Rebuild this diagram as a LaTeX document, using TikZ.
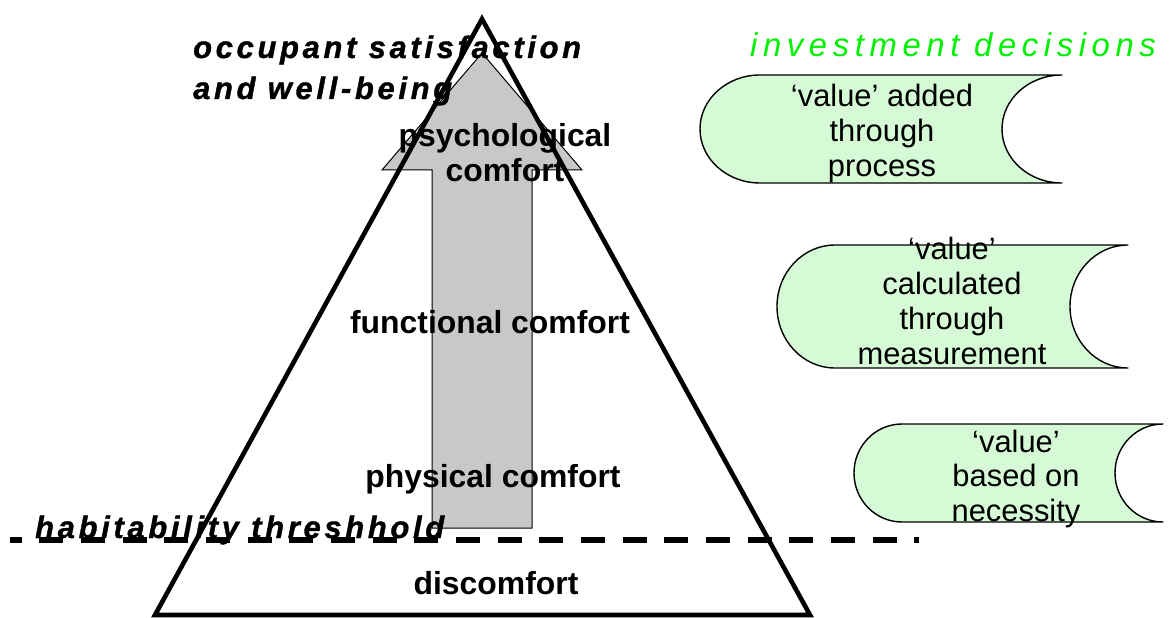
\documentclass[tikz,border=0pt]{standalone}
\usepackage{fontspec}
\setmainfont{Liberation Sans}
\newfontfamily\spacedbi[LetterSpace=12,FakeBold=1.2]{Liberation Sans Bold Italic}
\newfontfamily\spacedit[LetterSpace=17]{Liberation Sans Italic}
\definecolor{bannerfill}{RGB}{214,250,214}
\definecolor{arrowgray}{RGB}{200,200,200}
\definecolor{titlegreen}{RGB}{0,240,0}
\newcommand\bannershape[5]{%
  \pgfmathsetmacro\bnYm{(#3+#4)/2}%
  \pgfmathsetmacro\bnRy{(#4-#3)/2}%
  \pgfmathsetmacro\bnKx{0.5523*#5}%
  \pgfmathsetmacro\bnKy{0.5523*\bnRy}%
  \draw[banner] (#1,#3) -- (#2,#3)
    .. controls ({#2-\bnKx},#3) and ({#2-#5},{\bnYm-\bnKy}) .. ({#2-#5},\bnYm)
    .. controls ({#2-#5},{\bnYm+\bnKy}) and ({#2-\bnKx},#4) .. (#2,#4)
    -- (#1,#4)
    .. controls ({#1-\bnKx},#4) and ({#1-#5},{\bnYm+\bnKy}) .. ({#1-#5},\bnYm)
    .. controls ({#1-#5},{\bnYm-\bnKy}) and ({#1-\bnKx},#3) .. (#1,#3) -- cycle;
}
\begin{document}
\begin{tikzpicture}[x=1bp,y=-1bp,
  banner/.style={fill=bannerfill,draw=black,line width=1.4bp,line join=round},
  uparrow/.style={fill=arrowgray,draw=black,line width=1bp},
  pyramid/.style={draw=black,line width=4.6bp,line join=miter},
  threshold/.style={draw=black,line width=6bp,dash pattern=on 24bp off 17.67bp,dash phase=12.4bp},
  boldlabel/.style={font=\fontsize{32}{36}\selectfont\bfseries,inner sep=0pt},
  bilabel/.style={font=\spacedbi\fontsize{31}{40}\selectfont,inner sep=0pt},
  valuetext/.style={font=\fontsize{31}{35}\selectfont,inner sep=0pt},
  titletext/.style={font=\spacedit\fontsize{33}{36}\selectfont,text=titlegreen,inner sep=0pt}]
\useasboundingbox (0,0) rectangle (1169,618);
% banners
\bannershape{760}{1062}{75}{183}{60}
\bannershape{835}{1128}{245}{368}{58}
\bannershape{902}{1163}{424}{522}{48}
% big arrow
\draw[uparrow] (432,528) -- (432,170) -- (382,170) -- (482,53) -- (582,170) -- (532,170) -- (532,528) -- cycle;
% pyramid
\coordinate (apex) at (482,19);
\coordinate (bl) at (155,615);
\coordinate (br) at (810,615);
\draw[pyramid] (apex) -- (br) -- (bl) -- cycle;
% threshold line
\coordinate (th1) at (10,540);
\coordinate (th2) at (919,540);
\draw[threshold] (th1) -- (th2);
% texts
\node[bilabel,anchor=base west] (occ1) at (193,58) {occupant satisfaction};
\node[bilabel,anchor=base west] (occ2) at (193,99) {and well-being};
\node[boldlabel,anchor=base] (psy1) at (505,147) {psychological};
\node[boldlabel,anchor=base] (psy2) at (505,182) {comfort};
\node[boldlabel,anchor=base] (fun) at (490,334) {functional comfort};
\node[boldlabel,anchor=base] (phy) at (493,487) {physical comfort};
\node[boldlabel,anchor=base] (dis) at (496,594) {discomfort};
\node[bilabel,anchor=base west] (hab) at (35,538) {habitability threshhold};
\node[titletext,anchor=base west] (inv) at (750,57) {investment decisions};
\node[valuetext,anchor=base] (v1) at (882,107) {\begin{tabular}[t]{@{}c@{}}‘value’ added\\ through\\ process\end{tabular}};
\node[valuetext,anchor=base] (v2) at (952,260) {\begin{tabular}[t]{@{}c@{}}‘value’\\ calculated\\ through\\ measurement\end{tabular}};
\node[valuetext,anchor=base] (v3) at (1016,452) {\begin{tabular}[t]{@{}c@{}}‘value’\\ based on\\ necessity\end{tabular}};
\end{tikzpicture}
\end{document}
